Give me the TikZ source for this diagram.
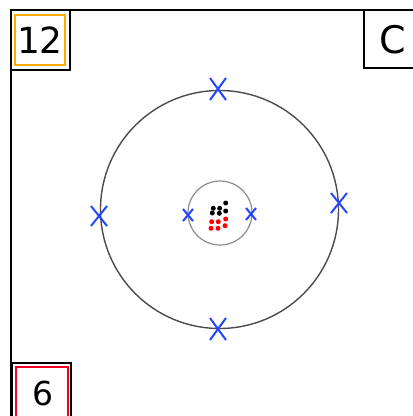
\documentclass[tikz,border=0pt]{standalone}
\usepackage{fontspec}
\setmainfont{DejaVu Sans}
\definecolor{xblue}{RGB}{35,70,255}
\definecolor{boxorange}{RGB}{255,170,0}
\definecolor{boxred}{RGB}{240,0,40}
\begin{document}
\begin{tikzpicture}[x=1pt,y=-1pt,
  frame/.style={draw=black,line width=2.2pt},
  outerbox/.style={draw=black,line width=2.2pt,fill=white,inner sep=0pt},
  innerbox/.style={line width=2.2pt,inner sep=0pt},
  orbit/.style={draw=black!70,line width=1.4pt},
  core/.style={draw=black!45,line width=1.2pt},
  xmark/.style={draw=xblue,line width=2pt},
  bdot/.style={circle,fill=black,inner sep=0pt,minimum size=5pt},
  rdot/.style={circle,fill=red,inner sep=0pt,minimum size=5pt}]
\useasboundingbox (0,0) rectangle (413,416);
\clip (0,0) rectangle (413,416);
\fill[white] (0,0) rectangle (413,416);
% frame
\coordinate (fb) at (11,430);
\coordinate (fc) at (11,10);
\coordinate (fr) at (430,10);
\draw[frame] (fb) -- (fc) -- (fr);
% orbits
\node[orbit,circle,minimum size=238pt,inner sep=0pt] (big) at (219.5,209.5) {};
\node[core,circle,minimum size=64pt,inner sep=0pt] (small) at (220,213) {};
% crosses
\foreach \n/\px/\py/\sx/\sy in {t/218/89/8/11, l/99/216/8/10, r/339/203/8/10, b/218/329/8/11, sl/188/215/5/6, sr/251/214/5/6}{
  \coordinate (x\n) at (\px,\py);
  \draw[xmark] ([shift={(-\sx,-\sy)}]x\n) -- ([shift={(\sx,\sy)}]x\n);
  \draw[xmark] ([shift={(-\sx,\sy)}]x\n) -- ([shift={(\sx,-\sy)}]x\n);
}
% dots
\foreach \i/\px/\py in {1/225.7/203,2/213.3/208.3,3/219.7/208.3,4/225.7/211,5/212.3/213,6/219.3/213.3}
  \node[bdot] (k\i) at (\px,\py) {};
\foreach \i/\px/\py in {1/225.7/219,2/211.7/221.7,3/218.3/221.7,4/225/225.7,5/211/228.3,6/218/228.3}
  \node[rdot] (r\i) at (\px,\py) {};
% box 12
\node[outerbox,minimum width=59pt,minimum height=60pt] (b12) at (40.5,40) {};
\node[innerbox,draw=boxorange,minimum width=50pt,minimum height=50pt,font=\fontsize{36}{36}\selectfont] (t12) at (40,40) {12};
% box C
\node[outerbox,minimum width=56pt,minimum height=58pt] (bC) at (392,39) {};
\node[font=\fontsize{38}{38}\selectfont,inner sep=0pt] (tC) at (393,40) {C};
% box 6
\node[outerbox,minimum width=59pt,minimum height=62pt] (b6) at (41.5,394) {};
\node[innerbox,draw=boxred,minimum width=52pt,minimum height=58pt] (r6) at (42,396) {};
\node[font=\fontsize{33}{33}\selectfont,inner sep=0pt] (t6) at (43,393.5) {6};
\end{tikzpicture}
\end{document}
